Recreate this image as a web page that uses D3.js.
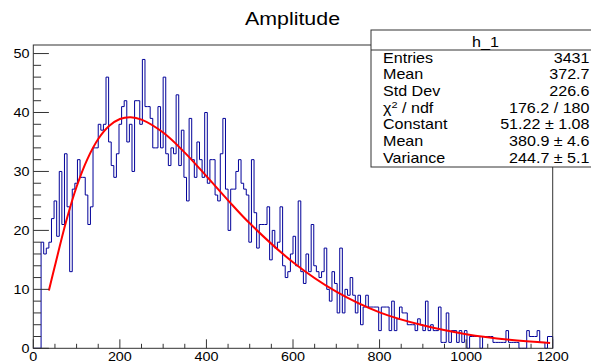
<!DOCTYPE html>
<html lang="en">
<head>
<meta charset="UTF-8">
<title>Amplitude</title>
<script src="https://cdn.jsdelivr.net/npm/d3@7"></script>
<style>
  body { margin: 0; background: #fff; overflow: hidden; }
  text { font-family: "Liberation Sans", Arial, Helvetica, sans-serif; fill: #000; }
</style>
</head>
<body>
<div id="chart"></div>
<script>
// h_1 : 200 bins between 0 and 1200
var xMin = 0, xMax = 1200, nBins = 200;
var counts = [
  0, 0, 0, 18, 16, 17, 18, 22, 25, 19, 30, 21, 33, 24, 13, 27, 28, 32, 29, 29,
  26, 21, 24, 34, 34, 38, 37, 38, 46, 35, 31, 29, 33, 38, 41, 42, 35, 38, 30, 42,
  42, 38, 49, 41, 41, 39, 34, 34, 41, 34, 46, 33, 31, 34, 33, 43, 31, 37, 29, 25,
  39, 32, 29, 35, 32, 29, 40, 28, 32, 32, 26, 25, 33, 39, 27, 20, 27, 27, 30, 32,
  28, 27, 26, 18, 32, 23, 17, 21, 21, 21, 24, 15, 20, 17, 18, 24, 14, 12, 13, 16,
  19, 14, 25, 13, 11, 16, 13, 21, 14, 13, 12, 13, 17, 10, 8, 13, 11, 6, 17, 6,
  10, 9, 12, 9, 6, 9, 4, 7, 9, 7, 7, 7, 7, 3, 7, 7, 7, 3, 8, 3,
  5, 7, 6, 6, 4, 4, 4, 3, 5, 4, 3, 8, 3, 4, 3, 3, 7, 1, 1, 6,
  1, 3, 3, 1, 3, 1, 3, 0, 2, 2, 2, 2, 0, 2, 2, 2, 2, 1, 1, 1,
  1, 1, 3, 1, 1, 1, 1, 0, 0, 0, 3, 2, 2, 2, 3, 1, 1, 0, 2, 2
];

// fitted curve
var fitX = [36, 50, 75, 100, 125, 150, 175, 200, 225, 250, 300, 350, 400, 450, 500, 600, 700, 800, 900, 1000, 1100, 1194];
var fitY = [9.8, 14, 21.3, 27.4, 32.1, 35.5, 37.7, 38.9, 39.2, 38.8, 36.6, 33.2, 29.2, 25.1, 21.2, 14.6, 9.6, 6.1, 3.9, 2.4, 1.45, 0.9];

var xTicks = [0, 200, 400, 600, 800, 1000, 1200];
var yTicks = [0, 10, 20, 30, 40, 50];
var yMax = 51.45;

var statNames = ["Entries", "Mean", "Std Dev", "chi2", "Constant", "Mean", "Variance"];
var statValues = ["3431", "372.7", "226.6", "176.2 / 180", "51.22 \u00b1 1.08", "380.9 \u00b1 4.6", "244.7 \u00b1 5.1"];

var W = 591, H = 363;
var padL = 33.3, padR = 552.7, padT = 45, padB = 348.3;
var sx = 1.15; // glyphs in the picture are a bit wide

var svg = d3.select("#chart").append("svg")
  .attr("width", W).attr("height", H);

var x = d3.scaleLinear().domain([xMin, xMax]).range([padL, padR]);
var y = d3.scaleLinear().domain([0, yMax]).range([padB, padT]);

function label(g, px, py, str, size, anchor) {
  return g.append("text")
    .attr("transform", "translate(" + px + "," + py + ") scale(" + sx + ",1)")
    .attr("text-anchor", anchor)
    .style("font-size", size + "px")
    .text(str);
}

// title
label(svg, 292.5, 25, "Amplitude", 18.6, "middle");

// histogram as a step line
var bw = (xMax - xMin) / nBins;
var pts = [[x(xMin), y(0)]];
counts.forEach(function (c, i) {
  pts.push([x(xMin + i * bw), y(c)]);
  pts.push([x(xMin + (i + 1) * bw), y(c)]);
});
pts.push([x(xMax), y(0)]);
svg.append("path")
  .attr("d", d3.line()(pts))
  .attr("fill", "none")
  .attr("stroke", "#000099")
  .attr("stroke-width", 1);

// fit
var fit = fitX.map(function (d, i) { return [d, fitY[i]]; });
svg.append("path")
  .datum(fit)
  .attr("d", d3.line().x(function (d) { return x(d[0]); }).y(function (d) { return y(d[1]); }).curve(d3.curveCatmullRom))
  .attr("fill", "none")
  .attr("stroke", "#ff0000")
  .attr("stroke-width", 2);

// frame
svg.append("rect")
  .attr("x", padL).attr("y", padT)
  .attr("width", padR - padL).attr("height", padB - padT)
  .attr("fill", "none").attr("stroke", "#333").attr("stroke-width", 1);

// y axis ticks and labels
var axis = svg.append("g").attr("stroke", "#333").attr("stroke-width", 1);
d3.range(0, yMax, 2).forEach(function (v) {
  var major = v % 10 === 0;
  axis.append("line")
    .attr("x1", padL).attr("x2", padL + (major ? 15.6 : 7.8))
    .attr("y1", y(v)).attr("y2", y(v));
});
yTicks.forEach(function (v) {
  label(svg, 29.5, y(v) + 4.4, String(v), 12.5, "end");
});

// x axis ticks and labels
d3.range(xMin, xMax + 1, 50).forEach(function (v) {
  var major = v % 200 === 0;
  axis.append("line")
    .attr("x1", x(v)).attr("x2", x(v))
    .attr("y1", padB).attr("y2", padB - (major ? 9 : 4.5));
});
xTicks.forEach(function (v) {
  label(svg, x(v), 361.3, String(v), 12.5, "middle");
});

// stats box
var box = svg.append("g");
box.append("rect")
  .attr("x", 371).attr("y", 30).attr("width", 229).attr("height", 137)
  .attr("fill", "#fff").attr("stroke", "#333").attr("stroke-width", 1);
box.append("line")
  .attr("x1", 371).attr("x2", 600).attr("y1", 50).attr("y2", 50)
  .attr("stroke", "#333").attr("stroke-width", 1);
label(box, 485.5, 46.5, "h_1", 14, "middle");

statNames.forEach(function (n, i) {
  var py = 62.5 + i * 16.7;
  if (n === "chi2") {
    var t = label(box, 383, py, "", 14, "start");
    t.append("tspan").text("\u03c7");
    t.append("tspan").attr("dy", -5).style("font-size", "9.5px").text("2");
    t.append("tspan").attr("dy", 5).text(" / ndf");
  } else {
    label(box, 383, py, n, 14, "start");
  }
  label(box, 589.5, py, statValues[i], 14, "end");
});
</script>
</body>
</html>
